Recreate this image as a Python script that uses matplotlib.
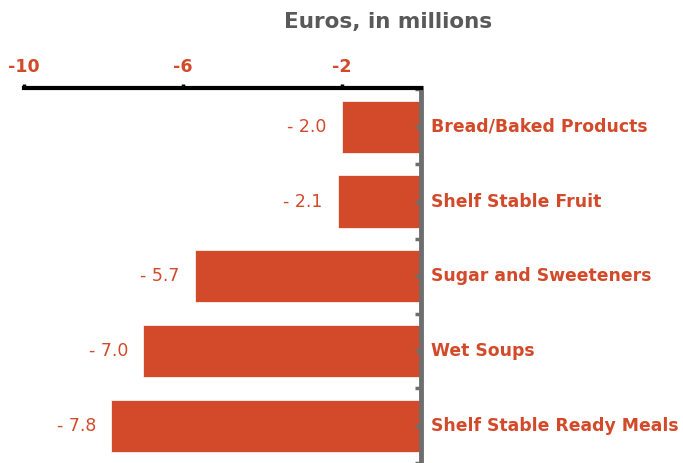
import numpy as np
import matplotlib.pyplot as plt

categories = ['Bread/Baked Products', 'Shelf Stable Fruit', 'Sugar and Sweeteners',
              'Wet Soups', 'Shelf Stable Ready Meals']
values = [-2.0, -2.1, -5.7, -7.0, -7.8]
xticks = [-10, -6, -2]

bar_color = '#D24A2A'
text_color = '#D24A2A'

fig = plt.figure(figsize=(6.83, 4.63), dpi=100)
ax = fig.add_axes([24 / 683, 0, 397 / 683, 1 - 88 / 463])

y = np.arange(len(categories))
ax.barh(y, values, height=0.7, color=bar_color, edgecolor='white', linewidth=0.5)

ax.set_xlim(-10, 0)
ax.set_ylim(len(categories) - 0.53, -0.52)

# value labels to the left of each bar
for yi, v in zip(y, values):
    ax.text(v - 0.38, yi, f'- {abs(v):.1f}', ha='right', va='center',
            fontsize=12.5, color=text_color)

# category names to the right of the axis
for yi, c in zip(y, categories):
    ax.text(0.25, yi, c, ha='left', va='center', fontsize=12.4,
            fontweight='bold', color=text_color, clip_on=False)

# top axis only
ax.xaxis.tick_top()
ax.set_xticks(xticks)
ax.set_xticklabels([str(t) for t in xticks], fontsize=12.5, fontweight='bold',
                   color=text_color)
ax.tick_params(axis='x', direction='out', length=3, width=2.5, color='black', pad=6)

ax.set_yticks(np.arange(-0.5, len(categories), 0.5))
ax.set_yticklabels([])
ax.tick_params(axis='y', left=False, right=True, direction='in', length=4,
               width=2.5, color='#6E6E6E')

for side in ['left', 'bottom']:
    ax.spines[side].set_visible(False)
ax.spines['top'].set_linewidth(3)
ax.spines['top'].set_color('black')
ax.spines['right'].set_linewidth(3.5)
ax.spines['right'].set_color('#6E6E6E')

fig.text(388 / 683, 1 - 22 / 463, 'Euros, in millions', ha='center', va='center',
         fontsize=15.5, fontweight='bold', color='#595959')

plt.savefig('out.png', dpi=100)
